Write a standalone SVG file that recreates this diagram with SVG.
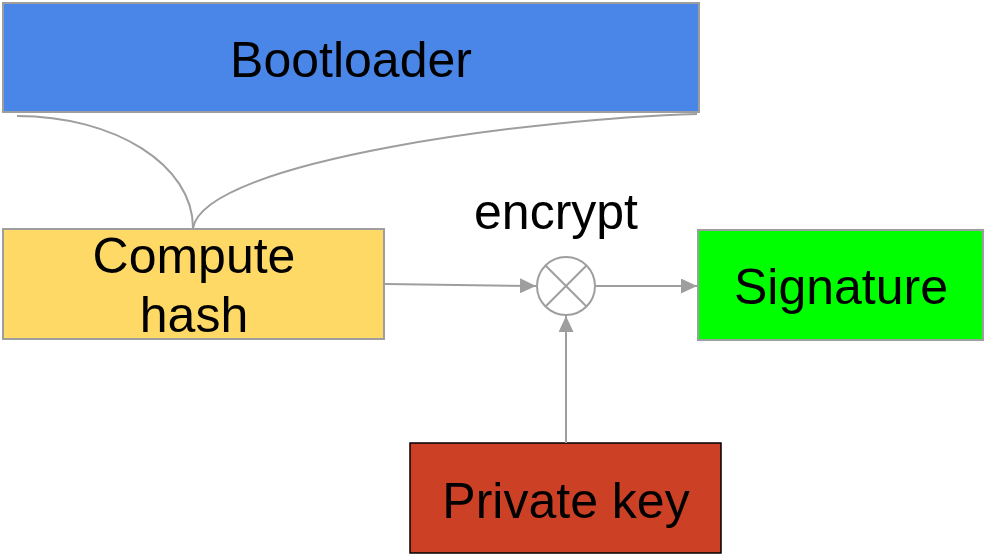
<svg xmlns="http://www.w3.org/2000/svg" width="984" height="555" viewBox="0 0 984 555">
  <style>
    .box { stroke: #9e9e9e; stroke-width: 2; }
    .label { font-family: "Liberation Sans", Arial, sans-serif; font-size: 50px; fill: #000; text-anchor: middle; }
    .wire { fill: none; stroke: #9e9e9e; stroke-width: 2; }
  </style>
  <defs>
    <marker id="arrow" viewBox="0 0 16 15" refX="16" refY="7.5" markerWidth="16" markerHeight="15" markerUnits="userSpaceOnUse" orient="auto">
      <path d="M0,0 L16,7.5 L0,15 Z" fill="#9e9e9e"/>
    </marker>
  </defs>

  <g id="bootloader">
    <rect class="box" x="3" y="3" width="696" height="109" fill="#4a86e8"/>
    <text class="label" x="351" y="77">Bootloader</text>
  </g>

  <g id="compute-hash">
    <rect class="box" x="3" y="229" width="381" height="110" fill="#ffd966"/>
    <text class="label" x="194" y="273">Compute</text>
    <text class="label" x="194" y="332">hash</text>
  </g>

  <g id="encrypt">
    <text class="label" x="556" y="229">encrypt</text>
    <circle cx="566" cy="286" r="29" fill="#fff" stroke="#9e9e9e" stroke-width="2"/>
    <line x1="545.5" y1="265.5" x2="586.5" y2="306.5" stroke="#9e9e9e" stroke-width="2"/>
    <line x1="586.5" y1="265.5" x2="545.5" y2="306.5" stroke="#9e9e9e" stroke-width="2"/>
  </g>

  <g id="signature">
    <rect class="box" x="698" y="230" width="285" height="110" fill="#00ff00"/>
    <text class="label" x="841" y="304">Signature</text>
  </g>

  <g id="private-key">
    <rect x="410" y="443" width="311" height="110" fill="#cc4125" stroke="#000" stroke-width="1.5"/>
    <text class="label" x="566" y="518">Private key</text>
  </g>

  <g id="connectors">
    <path class="wire" d="M17,116 C115,116 193,165 193,228"/>
    <path class="wire" d="M697,114 C540,118 205,160 193,228"/>
    <path class="wire" d="M385,284 L536,286" marker-end="url(#arrow)"/>
    <path class="wire" d="M595,286 L697,286" marker-end="url(#arrow)"/>
    <path class="wire" d="M566,443 L566,316" marker-end="url(#arrow)"/>
  </g>
</svg>
